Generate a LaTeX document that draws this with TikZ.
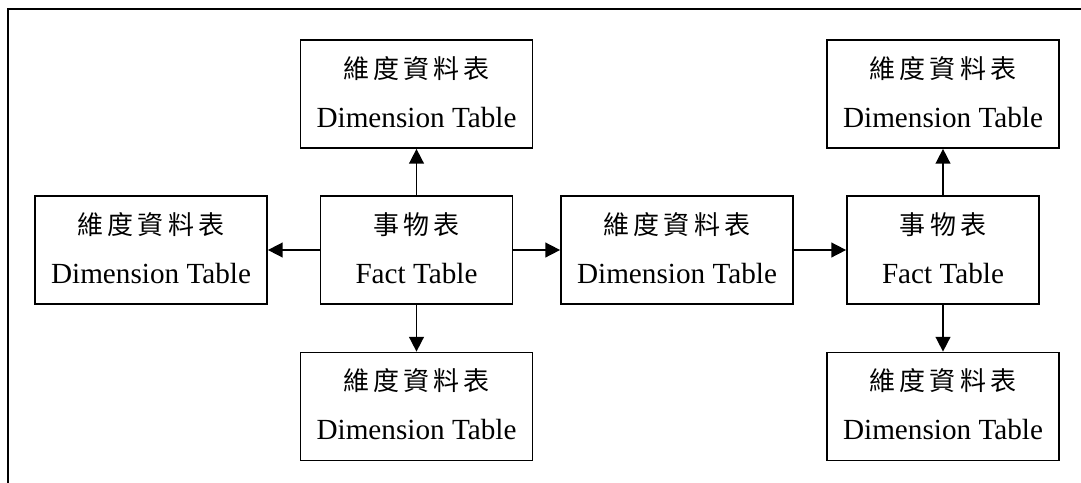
\documentclass[tikz,border=0pt]{standalone}
\usepackage{fontspec}
\setmainfont{Liberation Serif}
\newfontfamily\cjk{Noto Sans CJK TC}
\usetikzlibrary{arrows.meta}
% CJK titles spread evenly over a fixed width
\newcommand{\dimzh}{{\fontsize{19.5pt}{19.5pt}\cjk\makebox[110.25pt][s]{維\hfill 度\hfill 資\hfill 料\hfill 表}}}
\newcommand{\factzh}{{\fontsize{19.5pt}{19.5pt}\cjk\makebox[64.9pt][s]{事\hfill 物\hfill 表}}}
% struts that fix the two baselines inside each box
\newcommand{\topstrut}{\rule{0pt}{18pt}}
\newcommand{\botstrut}{\rule[-5.25pt]{0pt}{5.25pt}}
\begin{document}
\begin{tikzpicture}[x=0.75pt,y=-0.75pt,
  tbl/.style={draw,line width=1.3pt,rectangle,inner sep=0pt,
    minimum width=174pt,minimum height=81pt,align=center,
    font=\fontsize{21.9pt}{36.75pt}\selectfont},
  facttbl/.style={tbl,minimum width=144pt},
  link/.style={line width=1.2pt,-{Triangle[length=11pt,width=11pt]}}]
\useasboundingbox (0,0) rectangle (1081,482);
\clip (0,0) rectangle (1081,482);
% outer frame, cut at the right and bottom
\draw[line width=1.5pt] (8,500) -- (8,9) -- (1100,9);
% first star
\node[facttbl] (f1) at (416.5,250) {\topstrut\factzh\\Fact Table\botstrut};
\node[tbl] (t1) at (416.5,94) {\topstrut\dimzh\\Dimension Table\botstrut};
\node[tbl] (l1) at (151,250) {\topstrut\dimzh\\Dimension Table\botstrut};
\node[tbl] (b1) at (416.5,406.5) {\topstrut\dimzh\\Dimension Table\botstrut};
% shared dimension
\node[tbl] (m) at (677,250) {\topstrut\dimzh\\Dimension Table\botstrut};
% second star
\node[facttbl] (f2) at (943,250) {\topstrut\factzh\\Fact Table\botstrut};
\node[tbl] (t2) at (943,94) {\topstrut\dimzh\\Dimension Table\botstrut};
\node[tbl] (b2) at (943,406.5) {\topstrut\dimzh\\Dimension Table\botstrut};
% connectors
\draw[link] (f1.north) -- (t1.south);
\draw[link] (f1.west) -- (l1.east);
\draw[link] (f1.east) -- (m.west);
\draw[link] (f1.south) -- (b1.north);
\draw[link] (m.east) -- (f2.west);
\draw[link] (f2.north) -- (t2.south);
\draw[link] (f2.south) -- (b2.north);
\end{tikzpicture}
\end{document}
